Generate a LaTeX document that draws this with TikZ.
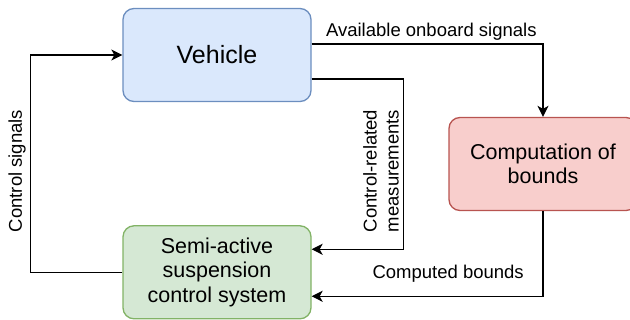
\documentclass[tikz,border=0pt]{standalone}
\usepackage{fontspec}
\setmainfont{Liberation Sans}
\usetikzlibrary{arrows.meta, positioning}

\definecolor{vehfill}{HTML}{DAE8FC}
\definecolor{vehline}{HTML}{6C8EBF}
\definecolor{bndfill}{HTML}{F8CECC}
\definecolor{bndline}{HTML}{B85450}
\definecolor{ctlfill}{HTML}{D5E8D4}
\definecolor{ctlline}{HTML}{82B366}

\begin{document}
\begin{tikzpicture}[x=1pt, y=-1pt, line width=1.3pt, every node/.style={align=center},
        block/.style={draw, rounded corners=11pt, minimum width=188pt, minimum height=93pt, font=\fontsize{21.5}{24.5}\selectfont},
        arr/.style={-{Stealth[length=11pt, width=11pt, inset=3pt]}},
        lbl/.style={font=\fontsize{18.5}{22}\selectfont}]
        \useasboundingbox (0,0) rectangle (630,320);
        \node (vehicle) [block, fill=vehfill, draw=vehline, font=\fontsize{25}{30}\selectfont] at (217,55) {Vehicle};
        \node (semi) [block, fill=ctlfill, draw=ctlline, below=123pt of vehicle] {Semi-active\\suspension\\control system};
        \node (bounds) [block, fill=bndfill, draw=bndline] at (543,164) {Computation of\\bounds};

        \draw[arr] ([yshift=11pt]vehicle.east) -| (bounds.north) node[pos=0.25, above, lbl, xshift=4pt] {Available onboard signals};
        \draw[arr] ([yshift=-24pt]vehicle.east) -- ++(92,0) |- ([yshift=23pt]semi.east);
        \draw[arr] (bounds.south) |- ([yshift=-24pt]semi.east) node[pos=0.705, above, lbl, yshift=10pt] {Computed bounds};
        \draw[arr] (semi.west) -- ++(-92,0) |- (vehicle.west);

        \node (measlbl) [lbl, rotate=90] at (381,171) {Control-related\\measurements};
        \node (ctllbl) [lbl, rotate=90] at (17,171) {Control signals};
    \end{tikzpicture}
\end{document}
